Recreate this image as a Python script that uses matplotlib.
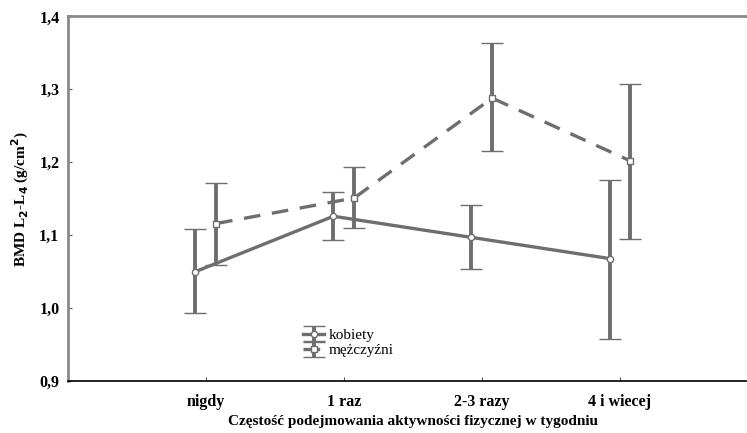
import matplotlib.pyplot as plt
import numpy as np

categories = ['nigdy', '1 raz', '2-3 razy', '4 i wiecej']
kobiety = [1.050, 1.126, 1.097, 1.068]
kobiety_hi = [1.108, 1.159, 1.141, 1.176]
kobiety_lo = [0.993, 1.094, 1.053, 0.958]
mezczyzni = [1.116, 1.151, 1.288, 1.202]
mezczyzni_hi = [1.172, 1.193, 1.364, 1.307]
mezczyzni_lo = [1.059, 1.110, 1.215, 1.095]
yticks = [0.9, 1.0, 1.1, 1.2, 1.3, 1.4]

plt.rcParams['font.family'] = ['Liberation Serif', 'DejaVu Serif']
gray = '#6e6e6e'

fig = plt.figure(figsize=(7.47, 4.33), dpi=100)
ax = fig.add_axes([0.0906, 0.12, 0.924, 0.842])

x = np.arange(len(categories))
k = np.array(kobiety)
m = np.array(mezczyzni)
ax.errorbar(x - 0.075, k, yerr=[k - np.array(kobiety_lo), np.array(kobiety_hi) - k],
            color=gray, lw=2.4, elinewidth=2.8, capsize=8, capthick=3,
            marker='o', ms=4.5, mfc='white', mec=gray, mew=1, label='kobiety')
ax.errorbar(x + 0.075, m, yerr=[m - np.array(mezczyzni_lo), np.array(mezczyzni_hi) - m],
            color=gray, lw=2.4, ls=(0, (5, 3.5)), elinewidth=2.8, capsize=8, capthick=3,
            marker='s', ms=4.5, mfc='white', mec=gray, mew=1, label='mężczyźni')

ax.set_xlim(-1, 4)
ax.set_ylim(0.9, 1.4)
ax.set_xticks(x)
ax.set_xticklabels(categories, fontsize=11.5, fontweight='bold')
ax.set_yticks(yticks)
ax.set_yticklabels([f'{v:.1f}'.replace('.', ',') for v in yticks], fontsize=11.5, fontweight='bold')
ax.tick_params(direction='in', length=3, width=0.8, color='#555555')
ax.tick_params(axis='x', pad=9)
ax.tick_params(axis='y', pad=6)

ax.spines['right'].set_visible(False)
ax.spines['top'].set_color('#8a8a8a')
ax.spines['top'].set_linewidth(2)
ax.spines['left'].set_color('#8a8a8a')
ax.spines['left'].set_linewidth(2)
ax.spines['bottom'].set_color('black')
ax.spines['bottom'].set_linewidth(1.2)

ax.set_xlabel('Częstość podejmowania aktywności fizycznej w tygodniu',
              fontsize=11, fontweight='bold', labelpad=4)
ax.set_ylabel('BMD L$_\\mathbf{2}$-L$_\\mathbf{4}$ (g/cm$^\\mathbf{2}$)',
              fontsize=11, fontweight='bold', labelpad=6)

ax.legend(loc='upper left', bbox_to_anchor=(0.33, 0.165), frameon=False,
          fontsize=11, handlelength=1.4, handletextpad=0.3, labelspacing=0.1,
          borderpad=0)

fig.savefig('out.png', dpi=100)
